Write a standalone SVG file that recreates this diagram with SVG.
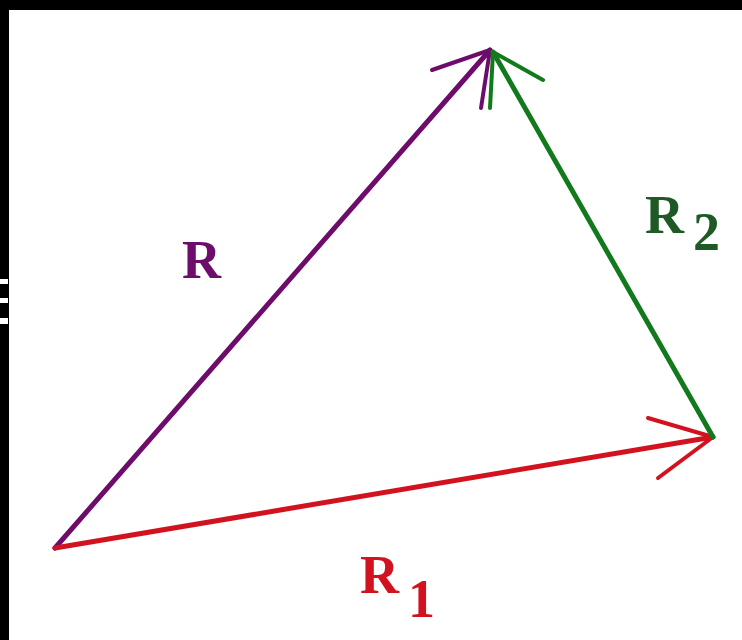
<svg xmlns="http://www.w3.org/2000/svg" width="742" height="640" viewBox="0 0 742 640">
<style>
.lbl{font-family:"Liberation Serif","Times New Roman",serif;font-weight:bold;font-size:54px}
.vec{fill:none;stroke-width:5;stroke-linecap:round;stroke-linejoin:round}
.barb{fill:none;stroke-width:4;stroke-linecap:round;stroke-linejoin:round}
</style>
<rect x="0" y="0" width="742" height="640" fill="#ffffff"/>
<g id="frame">
<rect x="0" y="0" width="742" height="10" fill="#000"/>
<rect x="0" y="0" width="9" height="640" fill="#000"/>
<rect x="0" y="279" width="8" height="5" fill="#fff"/>
<rect x="0" y="298" width="8" height="5" fill="#fff"/>
<rect x="0" y="318" width="8" height="6" fill="#fff"/>
</g>
<g id="connectors">
<g id="vec-R" stroke="#6e0c6c">
<path class="vec" d="M55,548 L490,50"/>
<path class="barb" d="M432,70 L490,50 L481,108"/>
</g>
<g id="vec-R1" stroke="#d3121f">
<path class="vec" d="M55,548 L713,437"/>
<path class="barb" d="M648,418 L713,437 L658,478"/>
</g>
<g id="vec-R2" stroke="#127a1c">
<path class="vec" d="M713,437 L493,52"/>
<path class="barb" d="M543,80 L493,52 L490,108"/>
</g>
</g>
<g id="label-R"><text class="lbl" x="182" y="278" fill="#6e0c6c">R</text></g>
<g id="label-R2"><text class="lbl" x="645" y="233" fill="#1f5a26">R<tspan x="693" y="250">2</tspan></text></g>
<g id="label-R1"><text class="lbl" x="360" y="593" fill="#d3121f">R<tspan x="408" y="617">1</tspan></text></g>
</svg>
